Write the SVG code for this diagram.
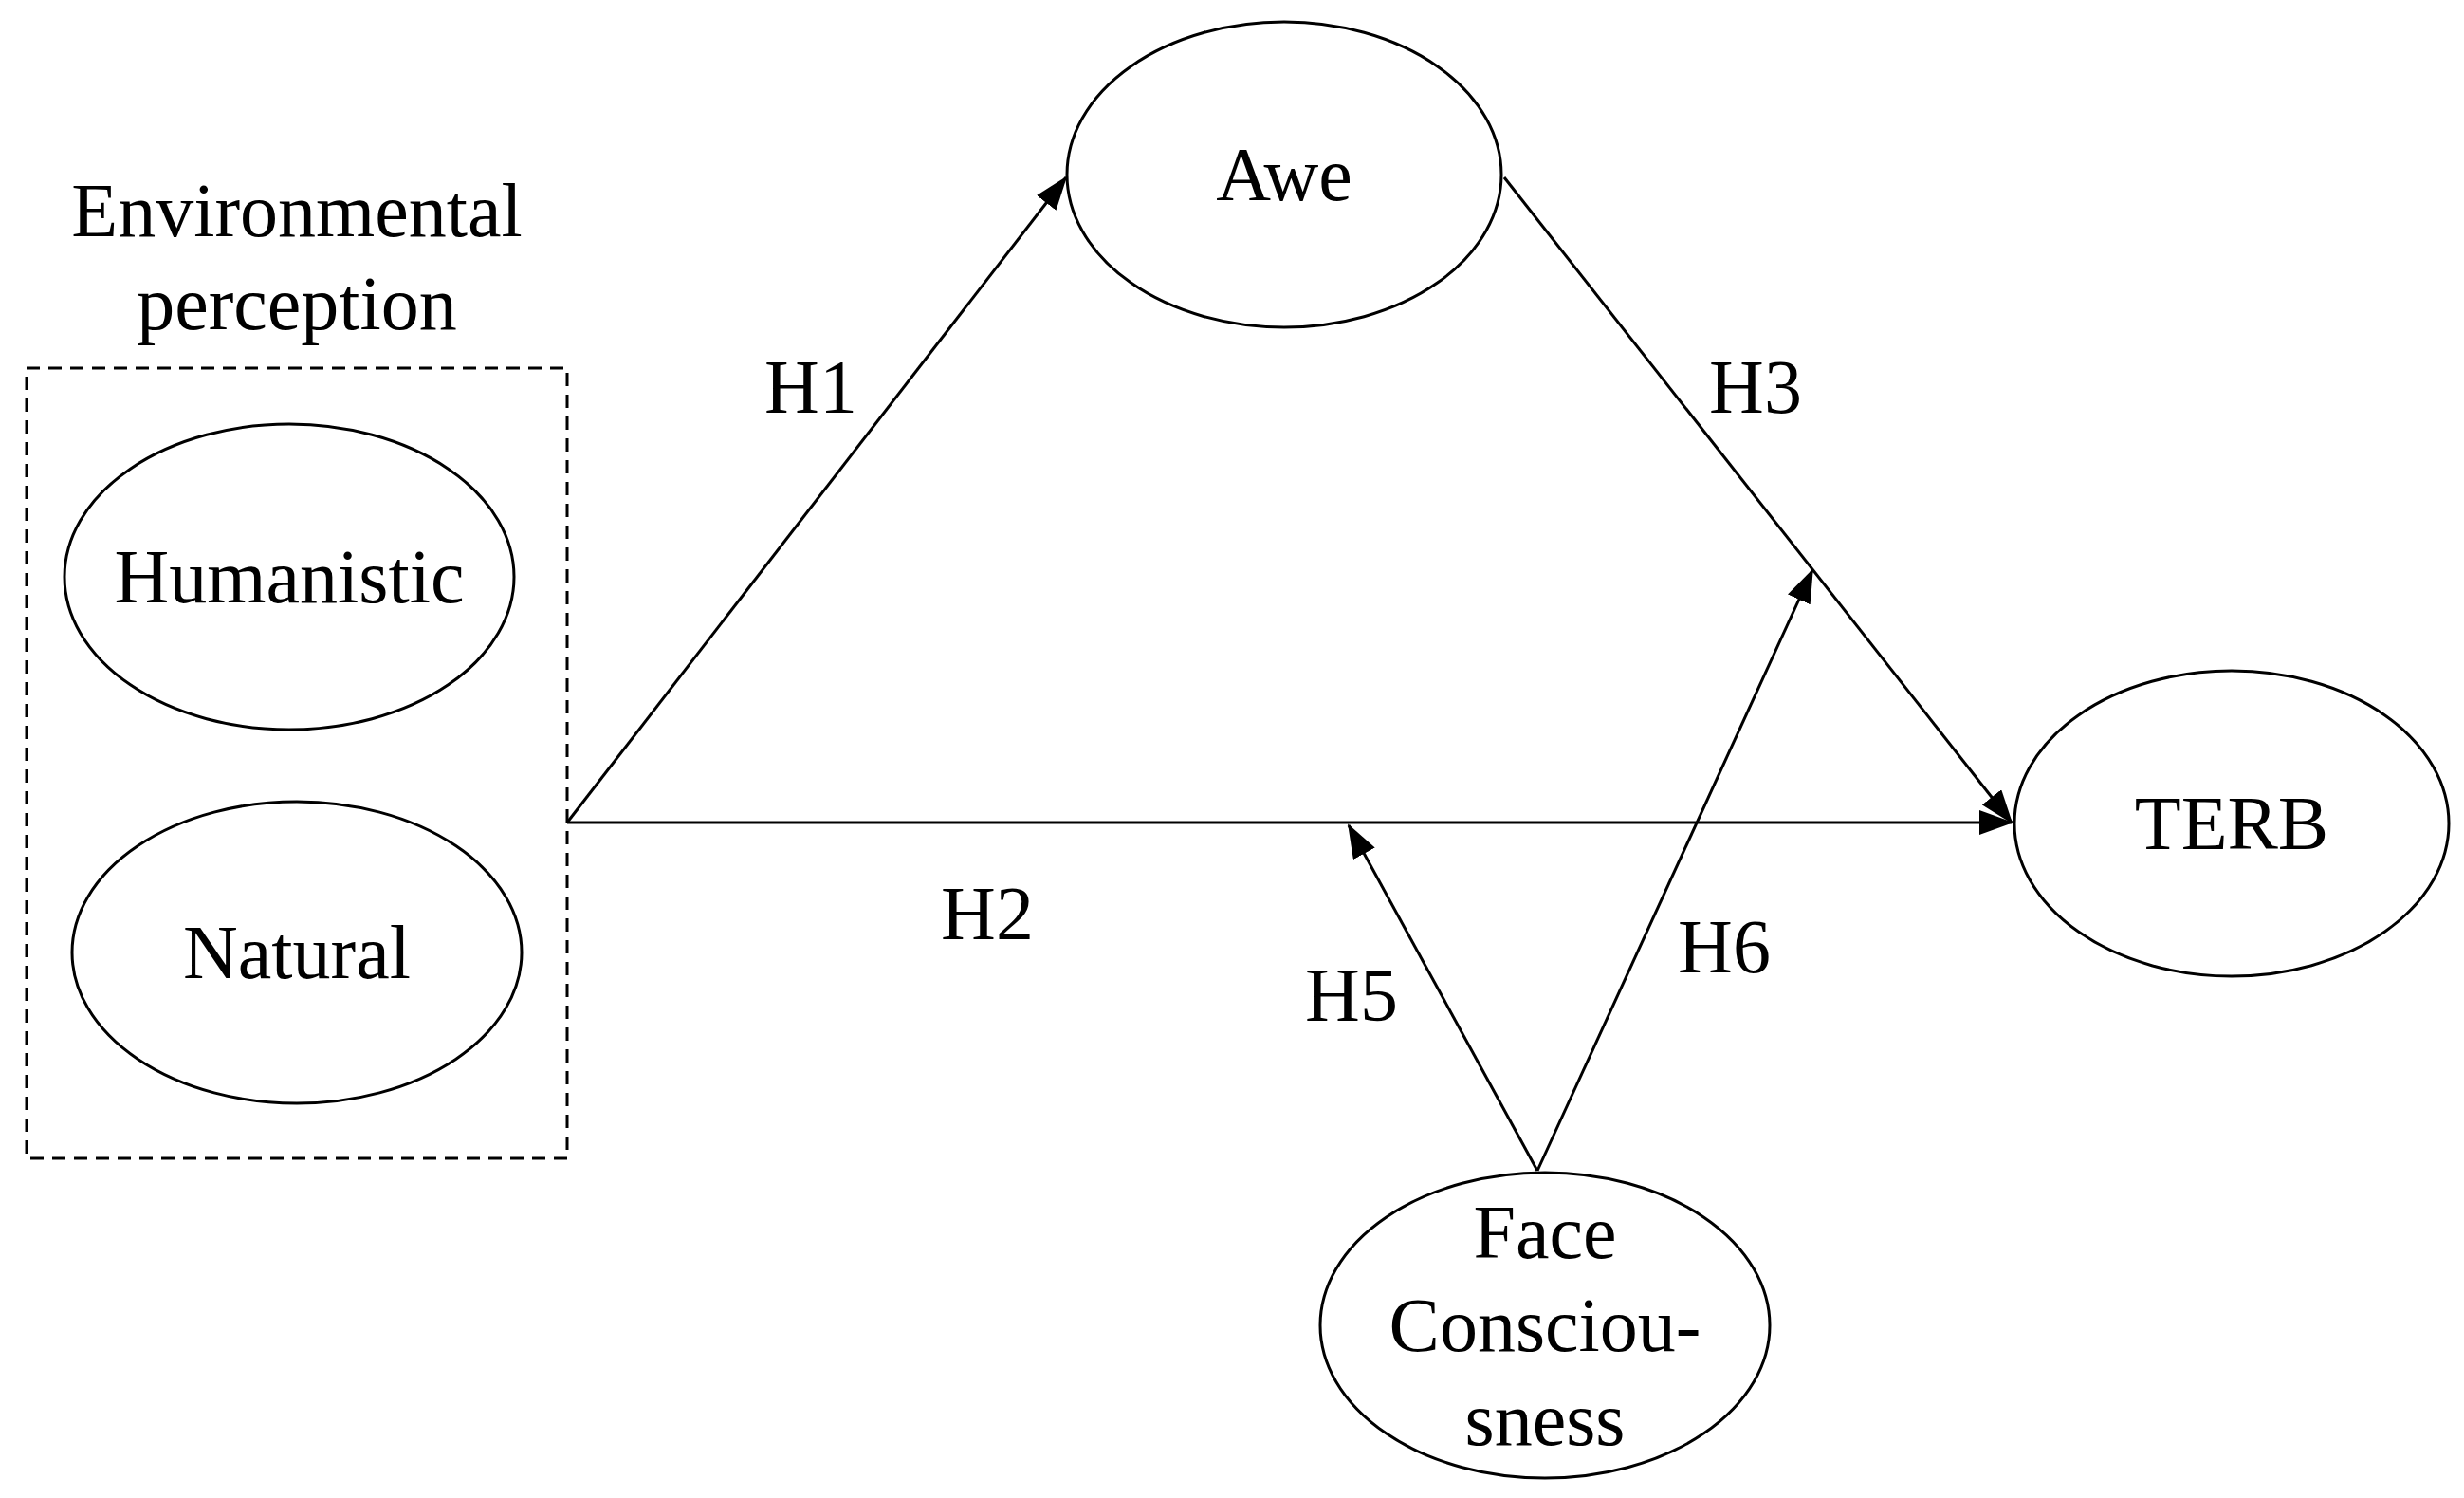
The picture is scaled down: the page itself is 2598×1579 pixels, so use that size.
<svg xmlns="http://www.w3.org/2000/svg" width="2598" height="1579" viewBox="0 0 2598 1579">
<style>
.n{fill:#fff;stroke:#000;stroke-width:3}
text{font-family:"Liberation Serif",serif;font-size:80px;fill:#000;text-anchor:middle;dominant-baseline:central}
.c line{stroke:#000;stroke-width:3}
</style>
<defs>
<marker id="b" markerWidth="36" markerHeight="26" refX="34" refY="13" orient="auto" markerUnits="userSpaceOnUse"><path d="M0,0L36,13L0,26z" fill="#000"/></marker></defs>
<rect width="2598" height="1579" fill="#fff"/>
<g id="env"><rect x="28" y="388" width="570" height="833" fill="none" stroke="#000" stroke-width="3" stroke-dasharray="14,9"/>
<text x="313" y="222">Environmental</text><text x="313" y="320">perception</text></g>
<g id="humanistic"><ellipse class="n" cx="305" cy="608" rx="237" ry="161"/><text x="305" y="608">Humanistic</text></g>
<g id="natural"><ellipse class="n" cx="313" cy="1004" rx="237" ry="159"/><text x="313" y="1004">Natural</text></g>
<g id="awe"><ellipse class="n" cx="1354" cy="184" rx="229" ry="161"/><text x="1354" y="184">Awe</text></g>
<g id="terb"><ellipse class="n" cx="2353" cy="868" rx="229" ry="161"/><text x="2353" y="868">TERB</text></g>
<g id="face"><ellipse class="n" cx="1629" cy="1397" rx="237" ry="161"/><text x="1629" y="1299">Face</text><text x="1629" y="1397">Consciou-</text><text x="1629" y="1496">sness</text></g>
<g class="c" id="connectors">
<line x1="598" y1="867" x2="1124" y2="187" marker-end="url(#b)"/>
<line x1="598" y1="867" x2="2121" y2="867" marker-end="url(#b)"/>
<line x1="1586" y1="187" x2="2121" y2="867" marker-end="url(#b)"/>
<line x1="1621" y1="1234" x2="1422" y2="870" marker-end="url(#b)"/>
<line x1="1621" y1="1234" x2="1911" y2="601" marker-end="url(#b)"/>
<text x="855" y="408">H1</text><text x="1851" y="408">H3</text><text x="1041" y="963">H2</text><text x="1425" y="1049">H5</text><text x="1818" y="998">H6</text>
</g>
</svg>
